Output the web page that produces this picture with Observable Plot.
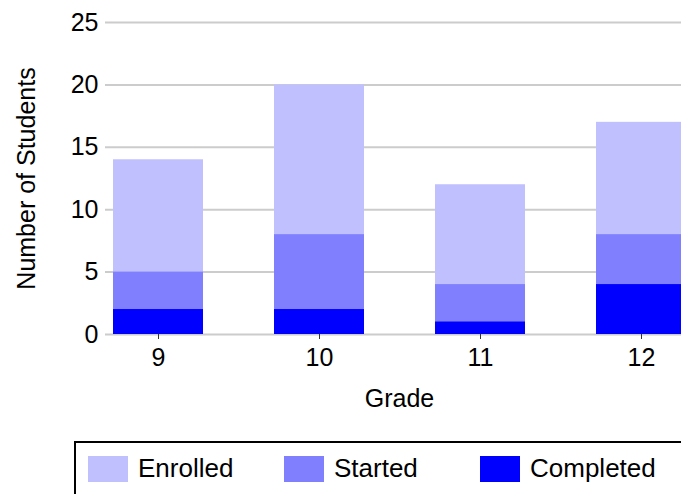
<!DOCTYPE html>
<html><head><meta charset="utf-8">
<script src="https://cdn.jsdelivr.net/npm/d3@7"></script>
<script src="https://cdn.jsdelivr.net/npm/@observablehq/plot@0.6"></script>
<style>
html,body{margin:0;padding:0;background:#fff;overflow:hidden}
#wrap{position:relative;width:681px;height:494px;overflow:hidden;font-family:"Liberation Sans",Arial,sans-serif}
#legend{position:relative;margin-left:74px;margin-top:1px;width:700px;height:100px;border:2px solid #000;box-sizing:border-box}
.item{position:absolute;top:13px;height:26px}
.sw{position:absolute;left:0;top:0;width:40px;height:26px}
.lb{position:absolute;left:50px;top:-3px;font-size:26px;line-height:30px;white-space:nowrap;color:#000}
</style>
</head><body>
<div id="wrap"></div>
<script>
const grades = ["9", "10", "11", "12"];
const series = ["Enrolled", "Started", "Completed"];
const colors = ["#c0c0ff", "#8080ff", "#0000ff"];
const enrolled = [14, 20, 12, 17];
const started = [5, 8, 4, 8];
const completed = [2, 2, 1, 4];
const yTicks = [0, 5, 10, 15, 20, 25];
const values = [enrolled, started, completed];

const rows = series.map((s, i) => grades.map((g, j) => ({grade: g, series: s, value: values[i][j]})));

const plot = Plot.plot({
  width: 681, height: 440,
  marginLeft: 105, marginRight: 0, marginTop: 22, marginBottom: 106,
  style: {fontFamily: "'Liberation Sans', Arial, sans-serif", fontSize: "25px", color: "#000", background: "#fff"},
  x: {domain: grades, range: [105, 693], paddingInner: 0.444, paddingOuter: 0.037, label: null},
  y: {domain: [0, 25], label: null},
  marks: [
    Plot.gridY(yTicks, {stroke: "#cccccc", strokeOpacity: 1, strokeWidth: 2}),
    ...rows.map((r, i) => Plot.barY(r, {x: "grade", y: "value", fill: colors[i]})),
    Plot.axisY(yTicks, {tickSize: 0, tickPadding: 7, label: null, fontSize: 25}),
    Plot.axisX({tickSize: 5, tickPadding: 9, stroke: "#333", label: null, fontSize: 25}),
    Plot.text(["Grade"], {frameAnchor: "bottom", dy: 72, dx: 6, fontSize: 25}),
    Plot.text(["Number of Students"], {frameAnchor: "left", textAnchor: "middle", rotate: -90, dx: -79, fontSize: 25})
  ]
});
const wrap = document.getElementById("wrap");
wrap.appendChild(plot);

const legend = document.createElement("div");
legend.id = "legend";
series.forEach((s, i) => {
  const it = document.createElement("div");
  it.className = "item";
  it.style.left = (12 + i * 196) + "px";
  const sw = document.createElement("div");
  sw.className = "sw";
  sw.style.background = colors[i];
  const lb = document.createElement("div");
  lb.className = "lb";
  lb.textContent = s;
  it.appendChild(sw); it.appendChild(lb);
  legend.appendChild(it);
});
wrap.appendChild(legend);
</script>
</body></html>
